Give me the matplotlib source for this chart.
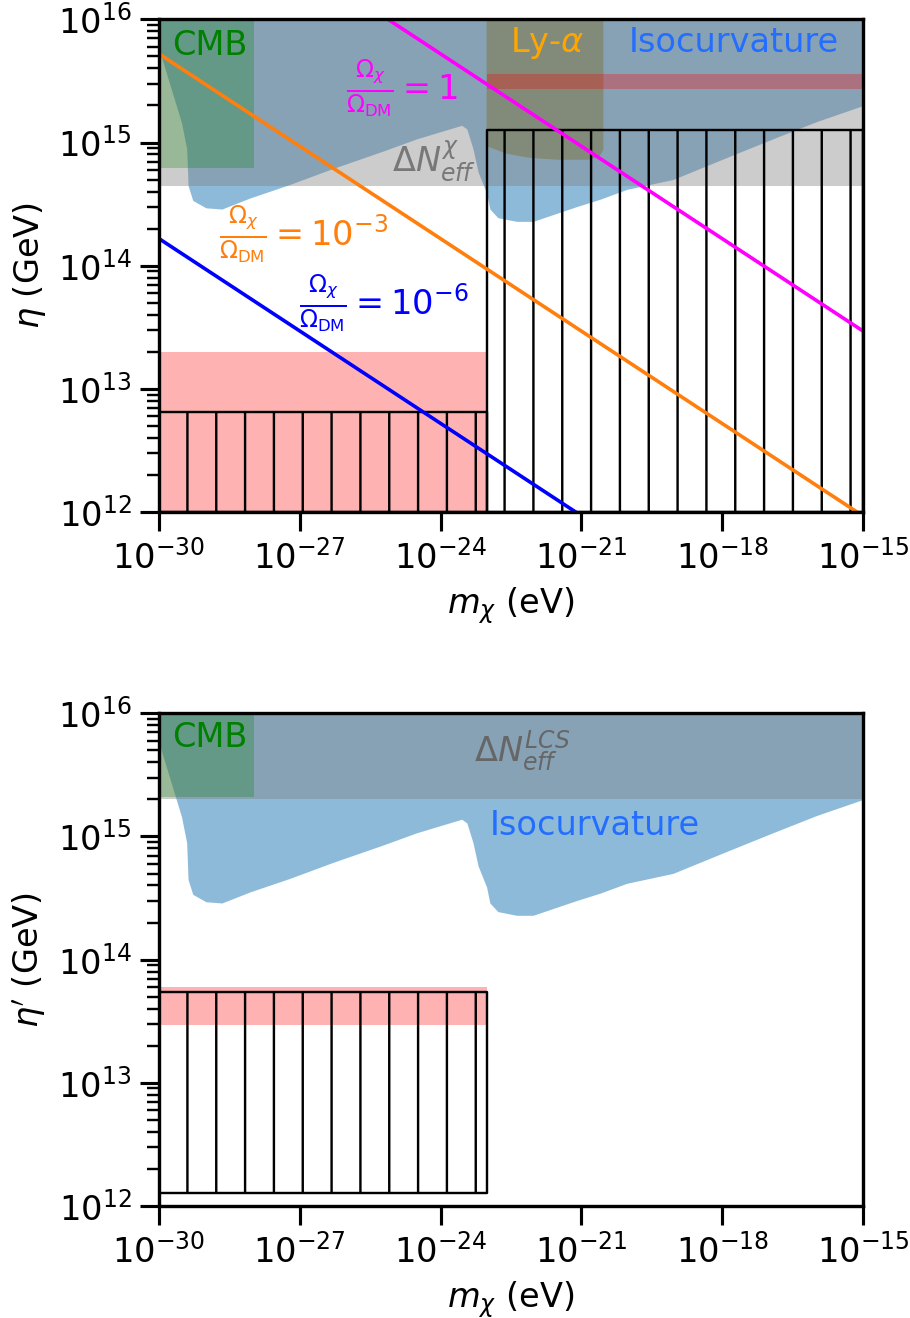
import matplotlib
matplotlib.use("Agg")
import matplotlib.pyplot as plt
import numpy as np
from matplotlib.ticker import NullLocator

plt.rcParams['font.size'] = 14
plt.rcParams['mathtext.fontset'] = 'dejavusans'

# isocurvature bound (log10 m [eV], log10 eta [GeV]) -- same curve in both panels
iso_logm = [-30.0, -29.52, -29.41, -29.38, -29.28, -29.0, -28.66, -28.06, -27.21,
            -26.29, -25.23, -24.51, -23.55, -23.44, -23.31, -23.20, -23.02, -22.95,
            -22.78, -22.38, -22.03, -21.10, -20.60, -20.03, -19.05, -17.83, -16.92,
            -15.99, -15.0]
iso_logeta = [15.76, 15.16, 14.95, 14.65, 14.53, 14.47, 14.46, 14.55, 14.66,
              14.79, 14.93, 15.03, 15.14, 15.11, 14.95, 14.76, 14.59, 14.46,
              14.39, 14.36, 14.36, 14.48, 14.54, 14.62, 14.70, 14.89, 15.03,
              15.17, 15.30]

# Ly-alpha region (top panel)
lya_logm = [-23.02, -23.02, -22.6, -22.1, -21.5, -20.85, -20.62, -20.53, -20.53]
lya_logeta = [16.0, 14.97, 14.91, 14.875, 14.86, 14.86, 14.885, 14.94, 16.0]

m_range = [1e-30, 1e-15]
m_low = [1e-30, 1e-23]
m_high = [1e-23, 1e-15]
cmb_m = [1e-30, 1.07e-28]

# top panel (eta)
dneff_top = 4.4e14
cmb_top = 6.2e14
red_band_top = [2.7e15, 3.6e15]
red_box_top = [1e12, 2.0e13]
hatch_left_top = [1e12, 6.5e12]
hatch_right_top = [1e12, 1.26e15]

# relic abundance lines, eta at m = 1e-30 and 1e-15
line_m = [1e-30, 1e-15]
eta_omega_1 = [1.66e17, 2.95e13]
eta_omega_1e3 = [5.25e15, 9.3e11]
eta_omega_1e6 = [1.66e14, 2.95e10]

# bottom panel (eta')
dneff_bot = 2.0e15
cmb_bot = 2.1e15
red_band_bot = [2.95e13, 6.0e13]
hatch_bot = [1.27e12, 5.5e13]

iso_m = 10.0 ** np.array(iso_logm)
iso_eta = 10.0 ** np.array(iso_logeta)
lya_m = 10.0 ** np.array(lya_logm)
lya_eta = 10.0 ** np.array(lya_logeta)

dpi = 173
fig = plt.figure(figsize=(910 / dpi, 1318 / dpi), dpi=dpi)
ax1 = fig.add_axes([0.1747, 0.6115, 0.7736, 0.3738])
ax2 = fig.add_axes([0.1747, 0.0850, 0.7736, 0.3738])


def style(ax):
    ax.set_xscale('log')
    ax.set_yscale('log')
    ax.set_xlim(1e-30, 1e-15)
    ax.set_ylim(1e12, 1e16)
    ax.set_xticks([1e-30, 1e-27, 1e-24, 1e-21, 1e-18, 1e-15])
    ax.xaxis.set_minor_locator(NullLocator())
    ax.tick_params(which='major', direction='out', length=8, width=1.3, labelsize=14)
    ax.tick_params(which='minor', direction='out', length=5, width=1.0)
    for s in ax.spines.values():
        s.set_linewidth(1.4)
    ax.set_xlabel(r'$m_\chi$ (eV)')


# ---- top panel
ax = ax1
ax.fill_between(iso_m, iso_eta, 1e16, color='C0', alpha=0.5, lw=0)
ax.fill_between(m_range, dneff_top, 1e16, color='gray', alpha=0.4, lw=0)
ax.fill_between(cmb_m, cmb_top, 1e16, color='green', alpha=0.25, lw=0)
ax.fill(lya_m, lya_eta, color='#7a6a20', alpha=0.4, lw=0)
ax.fill_between(m_high, red_band_top[0], red_band_top[1], color='red', alpha=0.3, lw=0)
ax.fill_between(m_low, red_box_top[0], red_box_top[1], color='red', alpha=0.3, lw=0)
ax.fill_between(m_low, hatch_left_top[0], hatch_left_top[1], facecolor='none',
                edgecolor='k', hatch='|', lw=1)
ax.fill_between(m_high, hatch_right_top[0], hatch_right_top[1], facecolor='none',
                edgecolor='k', hatch='|', lw=1)

ax.plot(line_m, eta_omega_1, color='magenta')
ax.plot(line_m, eta_omega_1e3, color='C1')
ax.plot(line_m, eta_omega_1e6, color='blue')

ax.text(10**-29.72, 10**15.79, 'CMB', color='green', va='center')
ax.text(10**-22.51, 10**15.81, r'Ly-$\alpha$', color='orange', va='center')
ax.text(10**-20.0, 10**15.81, 'Isocurvature', color='#236eff', va='center')
ax.text(10**-25.04, 10**14.84, r'$\Delta N_{eff}^{\chi}$', color='#787878', va='center')
ax.text(10**-26.02, 10**15.44, r'$\frac{\Omega_\chi}{\Omega_{\rm DM}}=1$',
        color='magenta', va='center')
ax.text(10**-28.72, 10**14.26, r'$\frac{\Omega_\chi}{\Omega_{\rm DM}}=10^{-3}$',
        color='C1', va='center')
ax.text(10**-27.02, 10**13.70, r'$\frac{\Omega_\chi}{\Omega_{\rm DM}}=10^{-6}$',
        color='blue', va='center')
style(ax)
ax.set_ylabel(r'$\eta$ (GeV)')

# ---- bottom panel
ax = ax2
ax.fill_between(iso_m, iso_eta, 1e16, color='C0', alpha=0.5, lw=0)
ax.fill_between(m_range, dneff_bot, 1e16, color='gray', alpha=0.4, lw=0)
ax.fill_between(cmb_m, cmb_bot, 1e16, color='green', alpha=0.25, lw=0)
ax.fill_between(m_low, red_band_bot[0], red_band_bot[1], color='red', alpha=0.3, lw=0)
ax.fill_between(m_low, hatch_bot[0], hatch_bot[1], facecolor='none',
                edgecolor='k', hatch='|', lw=1)

ax.text(10**-29.71, 10**15.80, 'CMB', color='green', va='center')
ax.text(10**-23.28, 10**15.69, r'$\Delta N_{eff}^{LCS}$', color='#666666', va='center')
ax.text(10**-22.96, 10**15.09, 'Isocurvature', color='#236eff', va='center')
style(ax)
ax.set_ylabel(r"$\eta'$ (GeV)")

fig.savefig('out.png', dpi=dpi)
